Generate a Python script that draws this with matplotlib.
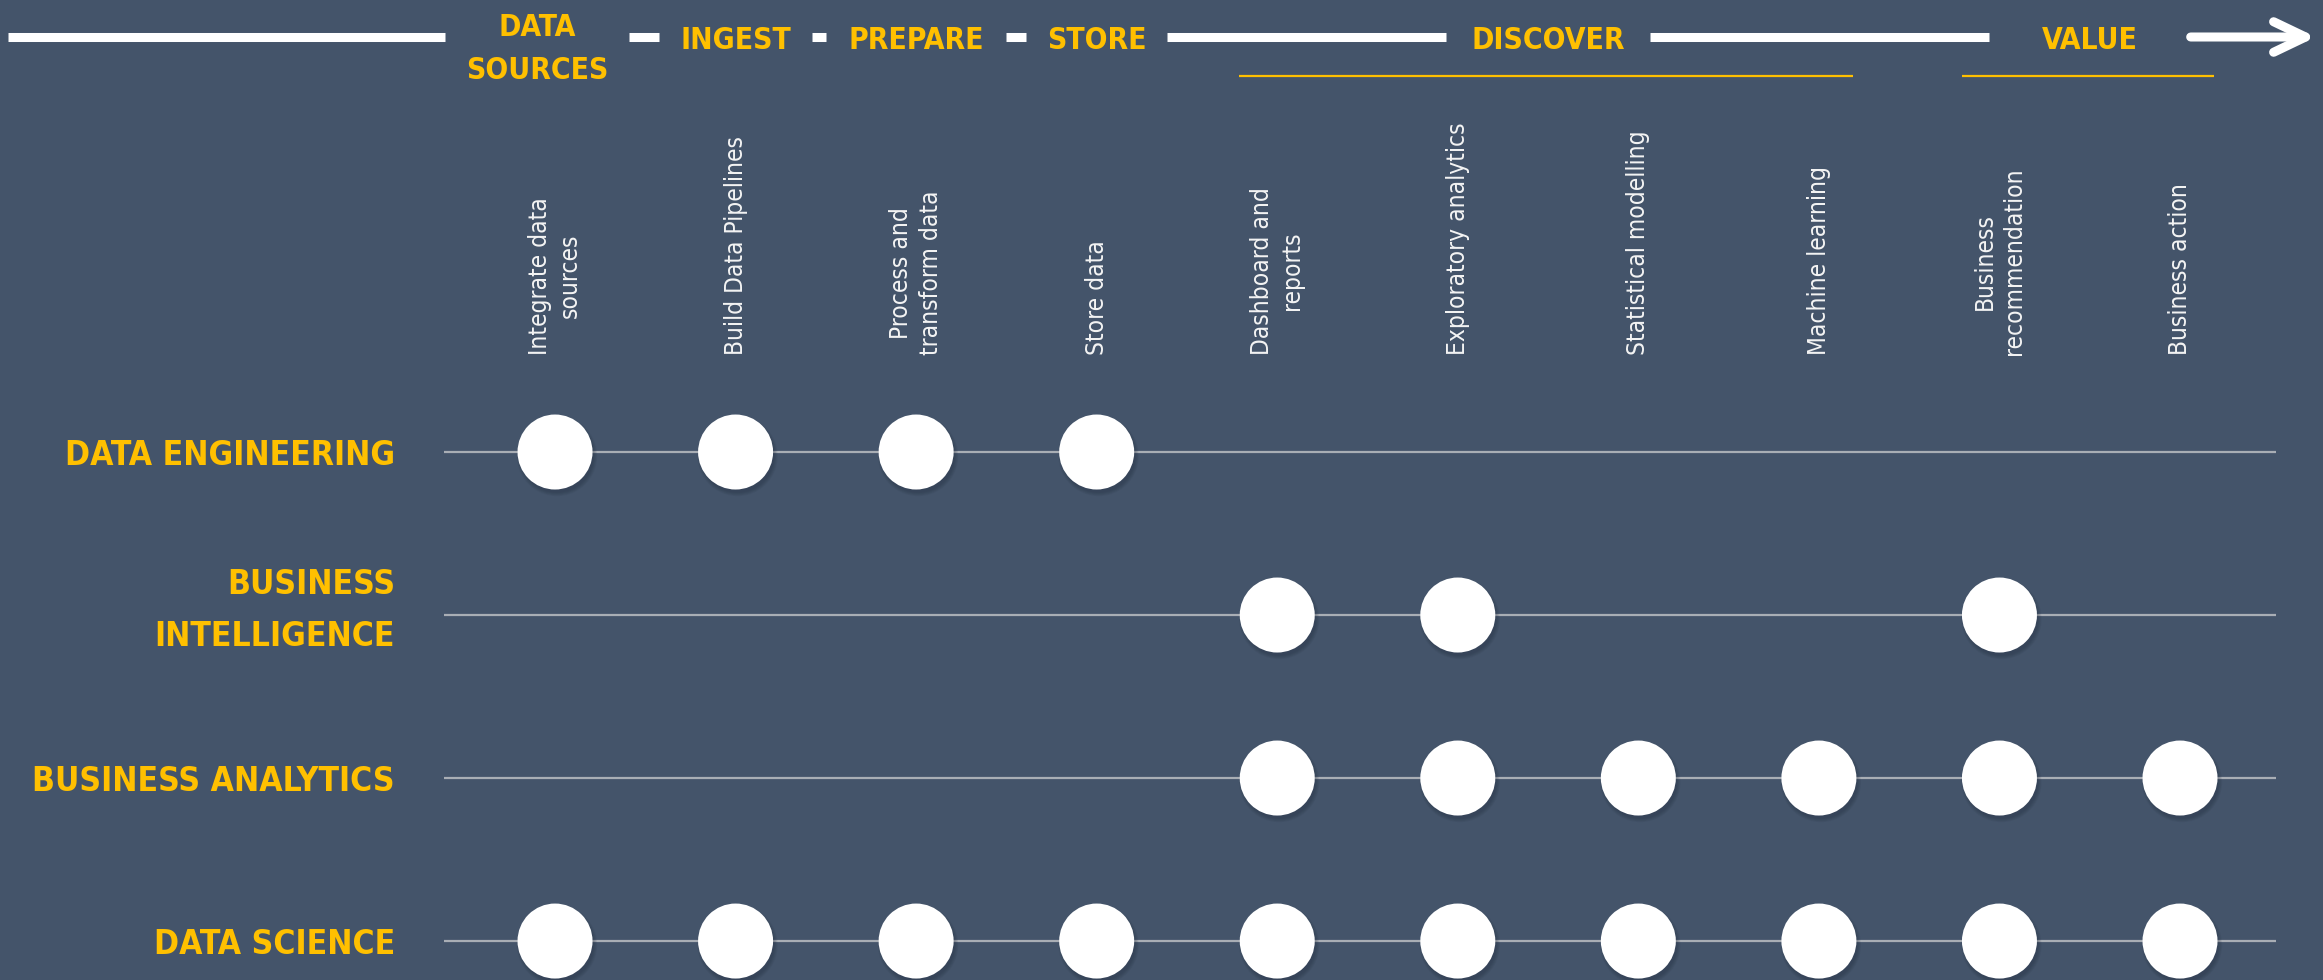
import matplotlib
matplotlib.use("Agg")
import matplotlib.pyplot as plt
from matplotlib import font_manager as fm
from matplotlib.transforms import ScaledTranslation

# ---------------- data ----------------
stages = ["DATA\nSOURCES", "INGEST", "PREPARE", "STORE", "DISCOVER", "VALUE"]
stage_first = [0, 1, 2, 3, 4, 8]
stage_last = [0, 1, 2, 3, 7, 9]

tasks = ["Integrate data\nsources", "Build Data Pipelines", "Process and\ntransform data",
         "Store data", "Dashboard and\nreports", "Exploratory analytics",
         "Statistical modelling", "Machine learning", "Business\nrecommendation",
         "Business action"]

roles = ["DATA ENGINEERING", "BUSINESS\nINTELLIGENCE", "BUSINESS ANALYTICS", "DATA SCIENCE"]

data_engineering = [1, 1, 1, 1, 0, 0, 0, 0, 0, 0]
business_intelligence = [0, 0, 0, 0, 1, 1, 0, 0, 1, 0]
business_analytics = [0, 0, 0, 0, 1, 1, 1, 1, 1, 1]
data_science = [1, 1, 1, 1, 1, 1, 1, 1, 1, 1]
membership = [data_engineering, business_intelligence, business_analytics, data_science]

# ---------------- style ----------------
BG = "#44546A"
YEL = "#FFC000"
LINE = "#A9AEB5"
W, H, DPI = 2323, 980, 100

names = {f.name for f in fm.fontManager.ttflist}
cond_dejavu = any(f.name == "DejaVu Sans" and str(f.stretch) == "condensed"
                  for f in fm.fontManager.ttflist)
if "Liberation Sans Narrow" in names:
    FONT = dict(family="Liberation Sans Narrow")
    scale = 1.0
elif cond_dejavu:
    FONT = dict(family="DejaVu Sans", fontstretch="condensed")
    scale = 0.86
else:
    FONT = dict(family="Liberation Sans")
    scale = 0.84

fig = plt.figure(figsize=(W / DPI, H / DPI), dpi=DPI, facecolor=BG)
ax = fig.add_axes([0, 0, 1, 1], facecolor=BG)
ax.set_axis_off()
ax.set_xlim(-3.074, 9.792)
ax.set_ylim(3.239, -2.773)

xtrans = ax.get_xaxis_transform()

# row lines
ax.hlines(range(len(roles)), -0.615, 9.53, color=LINE, lw=1.6, zorder=1)

# circles with soft shadow
for r, flags in enumerate(membership):
    xs = [c for c, f in enumerate(flags) if f]
    ys = [r] * len(xs)
    for k in range(5):
        off = ScaledTranslation(2 / DPI, -4 / DPI, fig.dpi_scale_trans)
        ax.scatter(xs, ys, s=(53 + 1.2 * k) ** 2, color="#1E2838", alpha=0.07,
                   edgecolors="none", transform=ax.transData + off, zorder=3)
    ax.scatter(xs, ys, s=54 ** 2, color="white", edgecolors="none", zorder=4)

# row labels (va='baseline' anchors the last line's baseline)
for r, name in enumerate(roles):
    n = name.count("\n") + 1
    up_px = -13 - (n - 1) * 18
    off = ScaledTranslation(0, up_px / DPI, fig.dpi_scale_trans)
    ax.text(-0.886, r, name, ha="right", va="baseline", multialignment="right",
            color=YEL, fontsize=28 * scale, fontweight="bold", linespacing=1.75,
            transform=ax.transData + off, **FONT)

# column (task) labels
for c, name in enumerate(tasks):
    ax.text(c, -0.595, name, rotation=90, ha="center", va="bottom",
            color="#F4F4F4", fontsize=22 * scale * 0.93, linespacing=1.3, **FONT)

# header stage labels
y_line = 1 - 37 / H
pads = [21, 21, 22, 21, 25, 53]
nudges = [-0.1, 0, 0, 0, 0, 0]
htexts = []
for i, name in enumerate(stages):
    n = name.count("\n") + 1
    xc = (stage_first[i] + stage_last[i]) / 2 + nudges[i]
    yb = 1 - (49 + (n - 1) * 30) / H
    t = ax.text(xc, yb, name, ha="center", va="baseline", color=YEL,
                fontsize=25 * scale, fontweight="bold", linespacing=1.6,
                transform=xtrans, **FONT)
    htexts.append(t)
    if stage_last[i] > stage_first[i]:
        ax.plot([stage_first[i] - 0.21, stage_last[i] + 0.19], [1 - 76 / H] * 2,
                color=YEL, lw=1.6, transform=xtrans, solid_capstyle="butt")

fig.canvas.draw()
renderer = fig.canvas.get_renderer()
inv = ax.transData.inverted()


def px_to_x(px):
    return inv.transform((px, 0))[0]


start = px_to_x(8)
for t, pad in zip(htexts, pads):
    bb = t.get_window_extent(renderer)
    end = px_to_x(bb.x0 - pad)
    ax.plot([start, end], [y_line, y_line], color="white", lw=6.5,
            solid_capstyle="butt", transform=xtrans, zorder=2)
    start = px_to_x(bb.x1 + pad)

tip = px_to_x(2316)
ax.annotate("", xy=(tip, y_line), xytext=(start, y_line),
            xycoords=xtrans, textcoords=xtrans,
            arrowprops=dict(arrowstyle="->,head_length=1.15,head_width=0.55",
                            mutation_scale=20, lw=6.5, color="white",
                            shrinkA=0, shrinkB=0, capstyle="round",
                            joinstyle="round"))

fig.savefig("out.png", dpi=DPI, facecolor=BG)
